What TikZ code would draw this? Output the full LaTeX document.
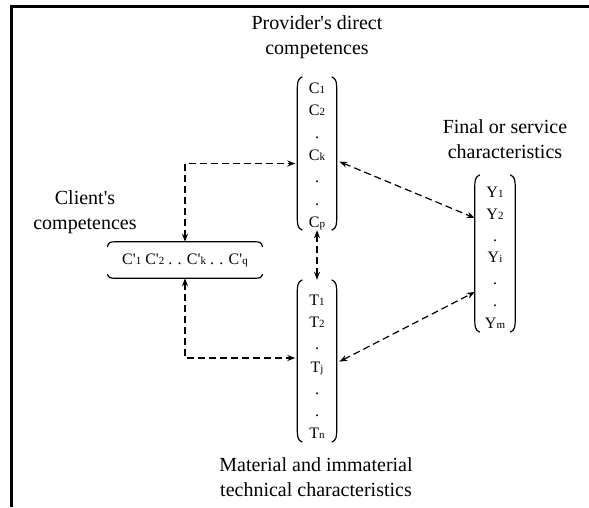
\documentclass[tikz,border=0pt]{standalone}
\usepackage{fontspec}
\setmainfont{Liberation Serif}
\usetikzlibrary{arrows.meta,calc}
\newcommand\lo[1]{{\fontsize{11}{11}\selectfont #1}}
\newcommand\qs{\textquotesingle}
\newcommand\parcol[1]{%
\draw[brk] ($(#1.north west)+(5,0)$) .. controls ($(#1.north west)+(0,2)$) and ($(#1.north west)+(0,6)$) .. ($(#1.north west)+(0,14)$) -- ($(#1.south west)+(0,-14)$) .. controls ($(#1.south west)+(0,-6)$) and ($(#1.south west)+(0,-2)$) .. ($(#1.south west)+(5,0)$);
\draw[brk] ($(#1.north east)+(-5,0)$) .. controls ($(#1.north east)+(0,2)$) and ($(#1.north east)+(0,6)$) .. ($(#1.north east)+(0,14)$) -- ($(#1.south east)+(0,-14)$) .. controls ($(#1.south east)+(0,-6)$) and ($(#1.south east)+(0,-2)$) .. ($(#1.south east)+(-5,0)$);}
\begin{document}
\begin{tikzpicture}[x=1pt,y=-1pt,
 lbl/.style={align=center,font=\fontsize{20}{25}\selectfont,inner sep=0},
 entry/.style={font=\fontsize{16}{16}\selectfont,inner sep=0,anchor=base},
 colbox/.style={minimum width=39pt,inner sep=0},
 brk/.style={line width=1.2pt},
 dar/.style={line width=1.2pt,dash pattern=on 7pt off 4pt,>={Stealth[length=8pt,width=6pt]},<->},
 frame/.style={line width=3.5pt}]
\useasboundingbox (0,0) rectangle (589,507);
\draw[frame] (11.5,507) -- (11.5,6.5) -- (589,6.5);
% labels
\node[lbl] (ptl) at (317,37) {Provider\qs s direct\\competences};
\node[lbl] (ftl) at (505,139) {Final or service\\characteristics};
\node[lbl] (ctl) at (85,212) {Client\qs s\\competences};
\node[lbl] (mtl) at (316,477) {Material and immaterial\\technical characteristics};
% C column
\node[colbox,minimum height=153pt] (C) at (317,153.5) {};
\foreach \t [count=\i] in {C\lo{1},C\lo{2},.,C\lo{k},.,.,C\lo{p}}
  \node[entry] (c\i) at (317,{88+22.33*(\i-1)+5.5}) {\t};
\parcol{C}
% T column
\node[colbox,minimum height=162pt] (T) at (317,361) {};
\foreach \t [count=\i] in {T\lo{1},T\lo{2},.,T\lo{j},.,.,T\lo{n}}
  \node[entry] (t\i) at (317,{300+22.17*(\i-1)+5.5}) {\t};
\parcol{T}
% Y column
\node[colbox,minimum width=40pt,minimum height=157pt] (Y) at (495,253.5) {};
\foreach \t [count=\i] in {Y\lo{1},Y\lo{2},.,Y\lo{i},.,.,Y\lo{m}}
  \node[entry] (y\i) at (495,{192+21.83*(\i-1)+5.5}) {\t};
\parcol{Y}
% client row
\node[entry,anchor=center,minimum width=155pt,minimum height=36pt] (cl) at (185,260)
  {C\qs\lo{1} C\qs\lo{2} . . C\qs\lo{k} . . C\qs\lo{q}};
\draw[brk] ($(cl.north west)+(0,5)$) .. controls ($(cl.north west)+(2,0)$) .. ($(cl.north west)+(10,0)$) -- ($(cl.north east)+(-10,0)$) .. controls ($(cl.north east)+(-2,0)$) .. ($(cl.north east)+(0,5)$);
\draw[brk] ($(cl.south west)+(0,-4)$) .. controls ($(cl.south west)+(2,0)$) .. ($(cl.south west)+(10,0)$) -- ($(cl.south east)+(-10,0)$) .. controls ($(cl.south east)+(-2,0)$) .. ($(cl.south east)+(0,-4)$);
% connector ends
\path (C.west |- c4.base) ++(0,3) coordinate (cin);
\path (T.west) ++(0,-3) coordinate (tin);
\path (T.east) ++(0,2) coordinate (tout);
\path (Y.west) ++(0,-35.5) coordinate (yup);
\path (Y.west) ++(0,38.5) coordinate (ydn);
% connectors
\draw[dar,shorten >=2pt] (cl.north) |- (cin);
\draw[dar,shorten >=2pt] (cl.south) |- (tin);
\draw[dar] (C.south) -- (T.north);
\draw[dar,shorten <=3pt] (C.east |- c4.base) -- (yup);
\draw[dar,shorten <=3pt] (tout) -- (ydn);
\end{tikzpicture}
\end{document}
